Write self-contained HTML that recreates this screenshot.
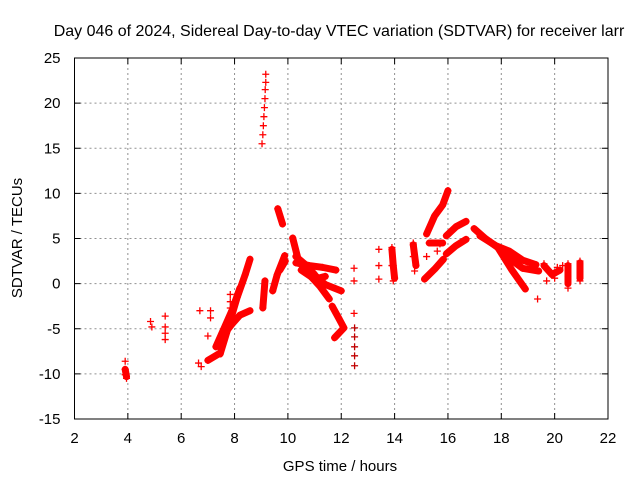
<!DOCTYPE html>
<html><head><meta charset="utf-8"><style>
body{margin:0;background:#fff;}
svg text{font-family:"Liberation Sans",sans-serif;font-size:14px;fill:#000;}
</style></head><body>
<svg id="chart" width="640" height="480" xmlns="http://www.w3.org/2000/svg">
<rect width="640" height="480" fill="#fff"/>
<g id="grid"></g><g id="marks"></g><g id="axes"></g>
<text x="339" y="36" text-anchor="middle" style="font-size:16px">Day 046 of 2024, Sidereal Day-to-day VTEC variation (SDTVAR) for receiver larr</text>
<text x="340" y="471" text-anchor="middle" style="font-size:15px">GPS time / hours</text>
<text transform="translate(22,238) rotate(-90)" text-anchor="middle" style="font-size:15px">SDTVAR / TECUs</text>
</svg>
<script>
const xTicks=[2,4,6,8,10,12,14,16,18,20,22];
const yTicks=[-15,-10,-5,0,5,10,15,20,25];
// tracks: continuous bands of points (time, value)
const trackT=[
 [7.0,7.4],[7.46,7.8,8.1,8.4,8.58],[7.5,7.9,8.2,8.58],[9.43,9.6,9.88],[9.62,9.8],
 [10.18,10.4,10.8,11.2,11.55],[10.3,10.8,11.3,11.8],[11.66,11.9,12.1,11.75],
 [15.12,15.5,15.83],[15.2,15.5,15.8,16.0],[15.94,16.3,16.68],[15.94,16.3,16.68],
 [16.98,17.4,17.87,18.4,18.9],[17.87,18.3,18.8,19.4],[17.2,17.8,18.3,18.8,19.3],
 [10.4,10.9,11.4,12.0],[9.06,9.14],[7.3,7.6,7.9,8.2],[10.3,10.7,11.0],[10.5,11.0,11.4],
 [13.9,13.95,14.0],[14.7,14.8],[15.3,15.8],[19.6,19.9,20.2],[20.5,20.5],[20.95,20.95],[3.9,3.95],[9.9,9.7]
];
const trackV=[
 [-8.5,-7.8],[-7.8,-4.5,-1.5,1.0,2.7],[-6,-4.5,-3.5,-3.0],[-0.8,1.0,3.1],[8.3,6.6],
 [5.05,2.5,1.0,-0.3,-1.7],[2.3,2.0,1.8,1.5],[-2.5,-3.8,-4.9,-6],
 [0.5,1.6,2.7],[5.5,7.5,8.7,10.3],[3.3,4.2,4.9],[5.3,6.3,6.9],
 [6.1,5.0,4.0,1.5,-0.6],[4.0,2.8,1.7,1.4],[5.3,4.2,3.6,2.6,2.1],
 [2.6,1.2,-0.1,-0.8],[-2.7,0.3],[-7.0,-5.0,-3.0,-0.5],[3.0,2.0,1.0],[1.5,0.5,0.8],
 [3.8,2.0,0.6],[4.3,2.0],[4.5,4.5],[2.0,1.0,1.5],[2.0,0.0],[2.3,0.6],[-9.5,-10.3],[2.5,1.5]
];
// isolated points
const ptT=[3.9,3.9,3.95,3.9,4.85,4.9,5.4,5.4,5.4,5.4,6.7,6.65,6.75,7.1,7.1,7.0,7.84,7.84,7.84,
 9.03,9.06,9.08,9.1,9.12,9.14,9.15,9.17,9.17,
 12.48,12.48,12.48,12.5,12.5,12.5,12.5,12.5,
 13.41,13.41,13.41,13.9,13.9,13.95,14.7,14.7,14.75,15.3,15.5,15.7,
 19.36,19.6,19.8,20.0,20.3,19.7,20.1,20.5,20.5,20.5,20.95,20.95,20.95,15.2,15.6];
const ptV=[-8.6,-9.5,-10.5,-10.1,-4.2,-4.8,-3.6,-4.8,-5.5,-6.2,-3.0,-8.8,-9.2,-3.0,-3.8,-5.8,-1.2,-2.0,-2.7,
 15.5,16.5,17.5,18.5,19.5,20.5,21.5,22.3,23.2,
 1.7,0.3,-3.3,-4.9,-5.9,-7.0,-8.0,-9.1,
 3.8,2.0,0.5,4.0,2.0,0.3,4.5,3.0,1.4,4.5,4.5,4.4,
 -1.7,2.2,1.3,0.6,2.0,0.3,1.8,2.2,0.8,-0.5,2.5,1.3,0.3,3.0,3.6];
const NS="http://www.w3.org/2000/svg";
const X0=74.5,X1=608,Y0=419,Y1=58;
const xs=t=>X0+(t-2)/(22-2)*(X1-X0);
const ys=v=>Y0-(v+15)/(25+15)*(Y0-Y1);
function mk(tag,attrs,parent){const e=document.createElementNS(NS,tag);for(const k in attrs)e.setAttribute(k,attrs[k]);parent.appendChild(e);return e;}
const grid=document.getElementById('grid'),axes=document.getElementById('axes'),marks=document.getElementById('marks');
xTicks.forEach(t=>{const x=xs(t);
 if(t>2&&t<22){const l=mk('line',{x1:x,x2:x,y1:Y1,y2:Y0,stroke:'#909090','stroke-dasharray':'2,3'},grid);
 
 }
 mk('line',{x1:x,x2:x,y1:Y0,y2:Y0-6,stroke:'#000'},axes);mk('line',{x1:x,x2:x,y1:Y1,y2:Y1+6,stroke:'#000'},axes);
 const tx=mk('text',{x:x,y:Y0+24,'text-anchor':'middle',style:'font-size:15px'},axes);tx.textContent=t;
 
 });
yTicks.forEach(v=>{const y=ys(v);
 if(v>-15&&v<25){const l=mk('line',{x1:X0,x2:X1,y1:y,y2:y,stroke:'#909090','stroke-dasharray':'2,3'},grid);
 
 }
 mk('line',{x1:X0,x2:X0+6,y1:y,y2:y,stroke:'#000'},axes);mk('line',{x1:X1,x2:X1-6,y1:y,y2:y,stroke:'#000'},axes);
 const tx=mk('text',{x:X0-14,y:y+5,'text-anchor':'end',style:'font-size:15px'},axes);tx.textContent=v;
 
 });
const fr=mk('rect',{x:X0,y:Y1,width:X1-X0,height:Y0-Y1,fill:'none',stroke:'#000'},axes);


function plus(x,y,c){const p=mk('path',{d:`M${x-3.5},${y}h7M${x},${y-3.5}v7`,stroke:c,'stroke-width':1.3},marks);
 
 }
trackT.forEach((ts,i)=>{const vs=trackV[i];
 const pl=mk('polyline',{points:ts.map((t,j)=>xs(t)+','+ys(vs[j])).join(' '),fill:'none',stroke:'#ff0000','stroke-width':7,'stroke-linejoin':'round','stroke-linecap':'round'},marks);
 
 
 ts.forEach((t,j)=>plus(xs(t),ys(vs[j]),'#ff0000'));});
ptT.forEach((t,i)=>plus(xs(t),ys(ptV[i]),(t>12.4&&t<12.6&&ptV[i]<-4)?'#c00000':'#ff0000'));
</script>
</body></html>
